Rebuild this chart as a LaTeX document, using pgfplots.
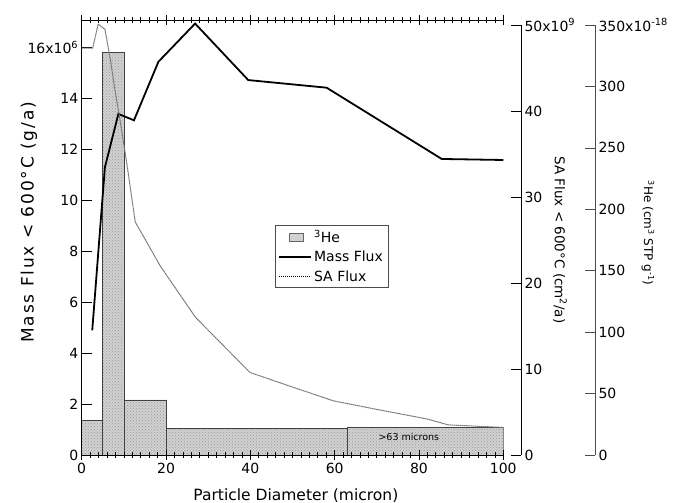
\documentclass[border=0pt]{standalone}
\usepackage{pgfplots}
\pgfplotsset{compat=1.18}
\usepackage{fontspec}
\setmainfont{DejaVu Sans}
\usetikzlibrary{patterns}
\begin{document}
\begin{tikzpicture}[x=1pt,y=1pt]
\path[use as bounding box] (0,0) rectangle (678,503);
\pgfplotsset{
  common/.style={scale only axis, width=421.6pt, height=435pt, at={(81.7pt,48pt)}, anchor=south west,
    xmin=0, xmax=100, ymin=0, /pgf/number format/assume math mode=true},
  tfont/.style={font=\fontsize{14}{16}\selectfont},
}
% ---- 3He bars (hidden axis, 3He scale) ----
\begin{axis}[common, ymax=354.0, hide axis]
\addplot[ybar interval, fill=black!18, draw=black!75, line width=0.6pt,
  postaction={pattern=crosshatch dots, pattern color=black!40}]
  coordinates {(0,28.5) (5,327.5) (10,44.8) (20,21.7) (63,22.2) (100,22.2)};
\node[font=\fontsize{9.5}{11}\selectfont] at (axis cs:77.6,14.4) {>63 microns};
\end{axis}
% ---- main axis: Mass flux ----
\begin{axis}[common, ymax=17.09,
  axis x line=box, axis y line=left,
  x axis line style={-}, y axis line style={-},
  axis line style={line width=0.8pt},
  xtick={0,20,...,100}, minor x tick num=9,
  ytick={0,2,...,16},
  yticklabels={0,2,4,6,8,10,12,14,16x10\textsuperscript{6}},
  xtick align=center, ytick align=inside,
  major tick length=10pt, minor tick length=6pt,
  every tick/.style={black, line width=0.7pt},
  tick label style={tfont},
  xlabel={Particle Diameter (micron)},
  ylabel={Mass Flux < 600°C (g/a)},
  every axis x label/.style={at={(axis description cs:0.508,-0.094)}, anchor=center, font=\fontsize{15.5}{17}\selectfont},
  every axis y label/.style={at={(axis description cs:-0.125,0.535)}, rotate=90, anchor=center,
     font=\fontsize{17}{19}\selectfont\addfontfeatures{LetterSpace=11}},
]
\addplot[black, line width=1.8pt] coordinates {
(2.5,4.9) (5.5,11.3) (8.7,13.4) (12.4,13.15) (18.2,15.45) (26.9,16.95)
(39.5,14.73) (58.1,14.43) (85.4,11.63) (100,11.59)};
\end{axis}
% ---- SA flux (hidden axis, SA scale) + legend ----
\begin{axis}[common, ymax=50.58, hide axis,
  legend style={at={(0.4585,0.5287)}, anchor=north west, draw=black!70, line width=0.6pt,
    font=\fontsize{14}{16}\selectfont, inner xsep=3pt, inner ysep=3pt, row sep=3pt, cells={anchor=west}},
]
\addlegendimage{legend image code/.code={\draw[draw=black!60, fill=black!18, line width=0.4pt] (10pt,-4pt) rectangle (24pt,4pt);}}
\addlegendentry{\textsuperscript{3}He}
\addlegendimage{black, line width=1.8pt, legend image code/.code={\draw (0pt,0pt) -- (32pt,0pt);}}
\addlegendentry{Mass Flux}
\addplot[black!55, line width=1pt, dash pattern=on 1.6pt off 0.5pt,
  legend image code/.code={\draw[black, line width=0.8pt, dash pattern=on 1.2pt off 0.8pt] (0pt,0pt) -- (32pt,0pt);}]
  coordinates {
(0,47.3) (2.6,47.3) (3.9,50.1) (5.5,49.5) (6.7,46.3) (7.9,42.4) (9.1,38.9)
(10.7,33.9) (12.7,27.1) (18.6,22.0) (27,16.0) (39.9,9.6) (50,7.9) (59.7,6.3)
(70,5.3) (81.8,4.2) (87,3.5) (100,3.2)};
\addlegendentry{SA Flux}
\end{axis}
% ---- visible SA axis ----
\begin{axis}[scale only axis, width=1pt, height=430pt, at={(520pt,48pt)}, anchor=south west,
  xmin=0, xmax=1, ymin=0, ymax=50,
  axis x line=none, axis y line=right, y axis line style={-, line width=0.8pt},
  ytick={0,10,...,50}, yticklabels={0,10,20,30,40,50x10\textsuperscript{9}},
  ytick align=inside, major tick length=10pt,
  every tick/.style={black, line width=0.7pt},
  tick label style={tfont},
  ylabel={SA Flux < 600°C (cm\textsuperscript{2}/a)},
  every axis y label/.style={at={(axis description cs:40,0.5)}, rotate=-90, anchor=center, font=\fontsize{13.5}{15}\selectfont},
]
\end{axis}
% ---- visible 3He axis ----
\begin{axis}[scale only axis, width=1pt, height=430pt, at={(594pt,48pt)}, anchor=south west,
  xmin=0, xmax=1, ymin=0, ymax=350,
  axis x line=none, axis y line=right, y axis line style={-, line width=0.8pt, black!70},
  ytick={0,50,...,350}, yticklabels={0,50,100,150,200,250,300,350x10\textsuperscript{-18}},
  ytick align=inside, major tick length=10pt,
  every tick/.style={black!70, line width=0.7pt},
  tick label style={tfont},
  ylabel={\textsuperscript{3}He (cm\textsuperscript{3} STP g\textsuperscript{-1})},
  every axis y label/.style={at={(axis description cs:54,0.516)}, rotate=-90, anchor=center, font=\fontsize{12}{14}\selectfont},
]
\end{axis}
\end{tikzpicture}
\end{document}
